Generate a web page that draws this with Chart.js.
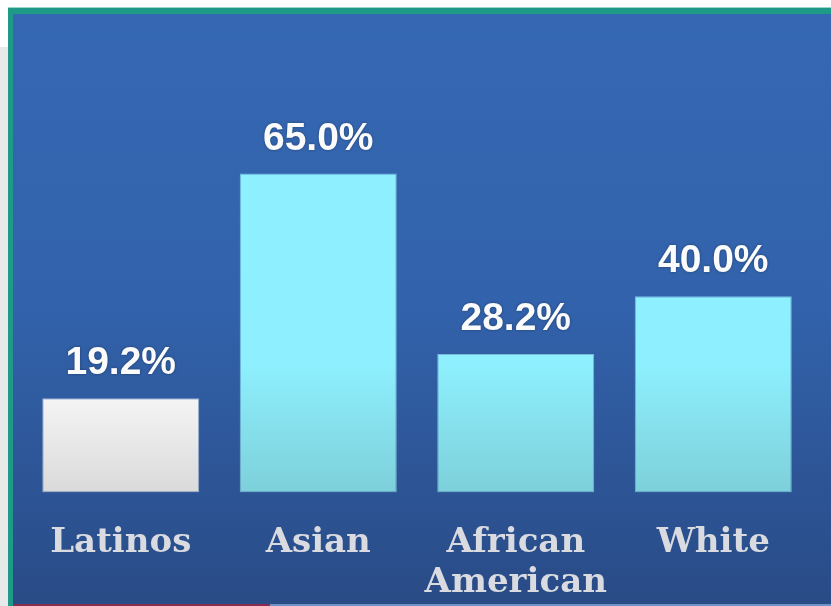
<!DOCTYPE html>
<html>
<head>
<meta charset="utf-8">
<script src="https://cdn.jsdelivr.net/npm/chart.js@4"></script>
<style>
  html, body { margin: 0; padding: 0; background: #ffffff; }
  canvas { display: block; }
</style>
</head>
<body>
<canvas id="chart" width="831" height="606"></canvas>
<script>
// Share by group, in percent
const categories = ['Latinos', 'Asian', ['African', 'American'], 'White'];
const shares = [19.2, 65.0, 28.2, 40.0];
const isFocusGroup = [true, false, false, false];

// Frame and blue panel behind the chart
const framePlugin = {
  id: 'frame',
  beforeDraw(chart) {
    const ctx = chart.ctx;
    const w = chart.width, h = chart.height;
    ctx.save();
    ctx.fillStyle = '#ffffff';
    ctx.fillRect(0, 0, w, h);
    ctx.fillStyle = '#e8eaea';
    ctx.fillRect(0, 47, 8, h - 47);
    ctx.fillStyle = '#9ad6cb';
    ctx.fillRect(8, 7, w - 8, 1);
    ctx.fillStyle = '#1f9a87';
    ctx.fillRect(8, 8, w - 8, 6);
    ctx.fillRect(8, 8, 5, h - 8);
    const g = ctx.createLinearGradient(0, 14, 0, h);
    g.addColorStop(0, '#3568b3');
    g.addColorStop(0.5, '#3262ab');
    g.addColorStop(1, '#294b86');
    ctx.fillStyle = g;
    ctx.fillRect(13, 14, w - 13, h - 14);
    ctx.fillStyle = '#8a2c4c';
    ctx.fillRect(13, h - 2, 257, 2);
    ctx.fillStyle = '#6f93c8';
    ctx.fillRect(270, h - 2, w - 270, 2);
    ctx.restore();
  }
};

// Percentage label above each bar
const valueLabelPlugin = {
  id: 'valueLabels',
  afterDatasetsDraw(chart) {
    const ctx = chart.ctx;
    const meta = chart.getDatasetMeta(0);
    ctx.save();
    ctx.font = 'bold 39px "Liberation Sans", Arial, sans-serif';
    ctx.textAlign = 'center';
    ctx.textBaseline = 'alphabetic';
    ctx.fillStyle = '#fbfbfb';
    ctx.shadowColor = 'rgba(0, 0, 0, 0.35)';
    ctx.shadowBlur = 3;
    meta.data.forEach((bar, i) => {
      ctx.fillText(shares[i].toFixed(1) + '%', bar.x, bar.y - 24);
    });
    ctx.restore();
  }
};

function barFill(context) {
  const chart = context.chart;
  const area = chart.chartArea;
  const i = context.dataIndex;
  if (!area) return isFocusGroup[i] ? '#e8e8e8' : '#8ef0fe';
  const ctx = chart.ctx;
  if (isFocusGroup[i]) {
    const top = chart.scales.y.getPixelForValue(shares[i]);
    const g = ctx.createLinearGradient(0, top, 0, area.bottom);
    g.addColorStop(0, '#f4f4f4');
    g.addColorStop(1, '#dadada');
    return g;
  }
  const g = ctx.createLinearGradient(0, area.bottom - 131, 0, area.bottom);
  g.addColorStop(0, '#8ef0fe');
  g.addColorStop(1, '#7dd0da');
  return g;
}

new Chart(document.getElementById('chart'), {
  type: 'bar',
  data: {
    labels: categories,
    datasets: [{
      data: shares,
      backgroundColor: barFill,
      borderColor: (c) => isFocusGroup[c.dataIndex] ? 'rgba(255,255,255,0.5)' : 'rgba(170,245,255,0.6)',
      borderWidth: 1,
      borderSkipped: false,
      barPercentage: 0.795,
      categoryPercentage: 1.0
    }]
  },
  options: {
    responsive: false,
    animation: false,
    devicePixelRatio: 1,
    layout: { padding: { top: 100, left: 22, right: 19, bottom: -28 } },
    plugins: {
      legend: { display: false },
      tooltip: { enabled: false }
    },
    scales: {
      x: {
        grid: { display: false, drawTicks: false },
        border: { display: false },
        ticks: {
          color: '#d9dbe0',
          padding: 30,
          font: { family: '"DejaVu Serif", serif', weight: 'bold', size: 34, lineHeight: 1.2 }
        }
      },
      y: {
        display: false,
        min: 0,
        max: 80
      }
    }
  },
  plugins: [framePlugin, valueLabelPlugin]
});
</script>
</body>
</html>
